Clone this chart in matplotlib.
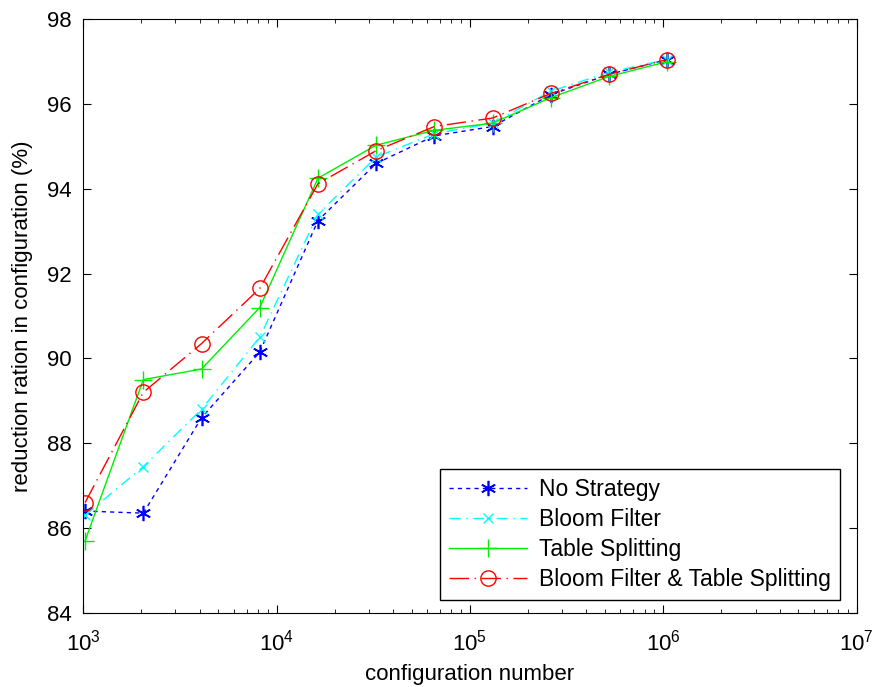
import numpy as np
import matplotlib
matplotlib.use("Agg")
import matplotlib.pyplot as plt
from matplotlib.ticker import LogLocator, NullFormatter

plt.rcParams['font.family'] = ['Liberation Sans', 'DejaVu Sans']

config_num = [2**k for k in range(10, 21)]
no_strategy = [86.4, 86.35, 88.6, 90.15, 93.25, 94.6, 95.25, 95.47, 96.22, 96.7, 97.05]
bloom_filter = [86.3, 87.45, 88.8, 90.5, 93.4, 94.75, 95.3, 95.55, 96.3, 96.75, 97.05]
table_split = [85.7, 89.5, 89.75, 91.2, 94.25, 95.03, 95.38, 95.55, 96.15, 96.65, 97.0]
bf_ts = [86.6, 89.2, 90.35, 91.65, 94.12, 94.9, 95.47, 95.67, 96.25, 96.7, 97.05]

fig = plt.figure(figsize=(8.75, 6.87), dpi=100)
ax = fig.add_axes([0.095, 0.108, 0.884, 0.864])

ax.plot(config_num, no_strategy, color='blue', linestyle=(0, (3, 3)), linewidth=1,
        marker=(6, 2, 0), markersize=11, markeredgewidth=1.2, label='No Strategy')
ax.plot(config_num, bloom_filter, color='cyan', linestyle=(0, (8, 4, 1, 4)), linewidth=1,
        marker='x', markersize=7, markeredgewidth=1, label='Bloom Filter')
ax.plot(config_num, table_split, color='#00ee00', linestyle='-', linewidth=1,
        marker='+', markersize=13, markeredgewidth=1, label='Table Splitting')
ax.plot(config_num, bf_ts, color='red', linestyle=(0, (14, 4, 1, 4)), linewidth=1,
        marker='o', markersize=11, markerfacecolor='none', markeredgewidth=1,
        label='Bloom Filter & Table Splitting')

ax.set_xscale('log')
ax.set_xlim(1e3, 1e7)
ax.set_ylim(84, 98)
ax.set_yticks(np.arange(84, 99, 2))
ax.xaxis.set_major_locator(LogLocator(base=10, numticks=10))
ax.xaxis.set_minor_locator(LogLocator(base=10, subs=np.arange(2, 10), numticks=10))
ax.xaxis.set_minor_formatter(NullFormatter())
ax.tick_params(which='both', direction='in', top=True, right=True, labelsize=16)
ax.tick_params(axis='x', which='major', pad=12)
ax.tick_params(axis='y', which='major', pad=8)
ax.tick_params(which='major', length=6)
ax.tick_params(which='minor', length=3)

ax.set_xlabel('configuration number', fontsize=16, labelpad=6)
ax.set_ylabel('reduction ration in configuration (%)', fontsize=16, labelpad=10)

leg = ax.legend(loc='lower right', bbox_to_anchor=(0.978, 0.022), borderaxespad=0,
                fontsize=16.5, fancybox=False, framealpha=1,
                edgecolor='black', handlelength=3.4, handletextpad=0.5,
                labelspacing=0.3)
leg.get_frame().set_linewidth(1)

fig.savefig('out.png', dpi=100)
